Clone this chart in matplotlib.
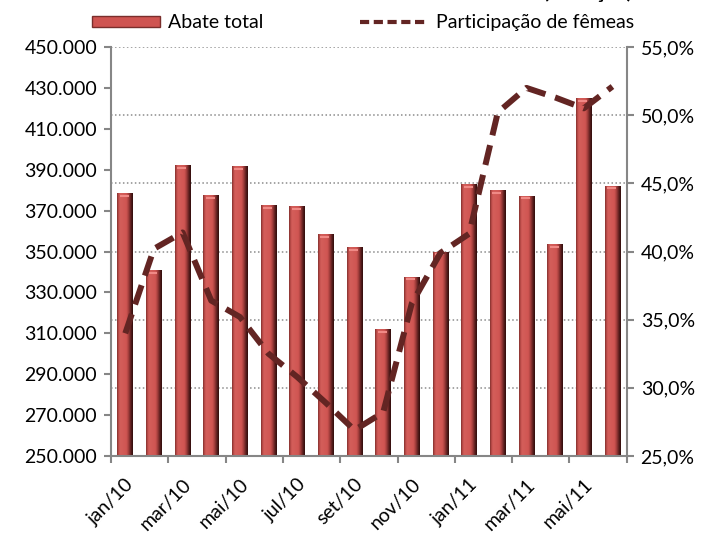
import matplotlib
matplotlib.use('Agg')
import matplotlib.pyplot as plt
import numpy as np
from matplotlib.patches import Rectangle
from matplotlib.lines import Line2D
from matplotlib.colors import LinearSegmentedColormap

plt.rcParams['font.family'] = ['Lato', 'DejaVu Sans']

# Dados
meses = ['jan/10', 'fev/10', 'mar/10', 'abr/10', 'mai/10', 'jun/10',
         'jul/10', 'ago/10', 'set/10', 'out/10', 'nov/10', 'dez/10',
         'jan/11', 'fev/11', 'mar/11', 'abr/11', 'mai/11', 'jun/11']
abate_total = [378600, 341000, 392300, 377600, 391800, 372700,
               372300, 358400, 352200, 312100, 337700, 350000,
               383000, 380100, 377300, 353500, 424900, 382200]
part_femeas = [34.0, 40.2, 41.4, 36.4, 35.2, 32.5,
               30.8, 28.9, 26.9, 28.2, 36.2, 39.9,
               41.3, 50.2, 52.0, 51.3, 50.5, 52.1]

esq_ticks = list(range(250000, 450001, 20000))
dir_ticks = [25, 30, 35, 40, 45, 50, 55]

cinza = '#868686'

fig = plt.figure(figsize=(7.05, 5.34), dpi=100)
ax = fig.add_axes([0.1574, 0.146, 0.7316, 0.766])
ax2 = ax.twinx()

x = np.arange(len(meses))

# grade pontilhada (segue o eixo direito), atras das barras
for p in dir_ticks[1:]:
    f = (p - 25) / 30
    ax.plot([0, 1], [f, f], transform=ax.transAxes, color='#8c8c8c',
            lw=1.1, ls=(0, (1, 1.6)), zorder=0)

# barras com efeito cilindrico
barras = ax.bar(x, abate_total, width=0.55, color='#CF5451', zorder=2,
                edgecolor='none')
cmap = LinearSegmentedColormap.from_list('cil', [
    (0.0, '#7a2e2c'), (0.08, '#b84845'), (0.18, '#d45f5b'),
    (0.6, '#d05552'), (0.75, '#9a3a38'), (0.88, '#5a1e1d'),
    (1.0, '#2e0c0b')])
grad = np.linspace(0, 1, 64).reshape(1, -1)
for b in barras:
    x0, w, h = b.get_x(), b.get_width(), b.get_height()
    im = ax.imshow(grad, cmap=cmap, aspect='auto', zorder=2.1,
                   extent=[x0, x0 + w, 250000, h], interpolation='bicubic')
    im.set_clip_path(b)
    # brilho no topo
    ax.plot([x0 + w * 0.15, x0 + w * 0.72], [h - 1300, h - 1300],
            color='#f08a86', lw=1.5, zorder=2.2, solid_capstyle='butt')

ax.set_xlim(-0.5, len(meses) - 0.5)
ax.set_ylim(250000, 450000)
ax.set_yticks(esq_ticks)
ax.set_yticklabels([f'{v:,}'.replace(',', '.') for v in esq_ticks])

# linha de participacao
ax2.plot(x, part_femeas, color='#632523', lw=4.3, ls=(0, (3.4, 1.7)),
         zorder=3)
ax2.set_ylim(25, 55)
ax2.set_yticks(dir_ticks)
ax2.set_yticklabels([f'{v:.1f}%'.replace('.', ',') for v in dir_ticks])

# eixo x: marcas a cada 2 meses, rotulos nos meses pares
ax.set_xticks(np.arange(-0.5, len(meses), 2))
ax.set_xticklabels([])
ax.set_xticks(x[::2], minor=True)
ax.set_xticklabels(meses[::2], minor=True, rotation=45, ha='right',
                   rotation_mode='anchor', fontsize=14)
ax.tick_params(axis='x', which='minor', length=0, pad=14)
ax.tick_params(axis='x', which='major', length=5, color=cinza, width=1.5)
ax.tick_params(axis='y', length=5, color=cinza, width=1.5, labelsize=14,
               pad=5)
ax2.tick_params(axis='y', length=5, color=cinza, width=1.5, labelsize=14,
                pad=5)

for a in (ax, ax2):
    a.spines['top'].set_visible(False)
    for s in ('left', 'right', 'bottom'):
        a.spines[s].set_color(cinza)
        a.spines[s].set_linewidth(1.5)
ax.spines['right'].set_visible(False)
ax2.spines['left'].set_visible(False)
ax2.spines['bottom'].set_visible(False)
ax.patch.set_visible(False)

# legenda
h1 = Rectangle((0, 0), 1, 1, facecolor='#CF5451', edgecolor='#7a2e2c', lw=1)
h2 = Line2D([], [], color='#632523', lw=3, ls=(0, (2.2, 1.1)))
fig.legend([h1, h2], ['Abate total', 'Participação de fêmeas'], ncol=2,
           loc='center', bbox_to_anchor=(0.515, 0.957), frameon=False,
           fontsize=14, handlelength=3.5, handleheight=0.55,
           columnspacing=5.0, handletextpad=0.4)

# titulo cortado no topo (so as pontas aparecem, como na referencia)
fig.text(0.834, 1 + 1.5 / 534, '(cabeças)', fontsize=16, weight='bold',
         ha='center', va='baseline')

fig.savefig('out.png', dpi=100)
